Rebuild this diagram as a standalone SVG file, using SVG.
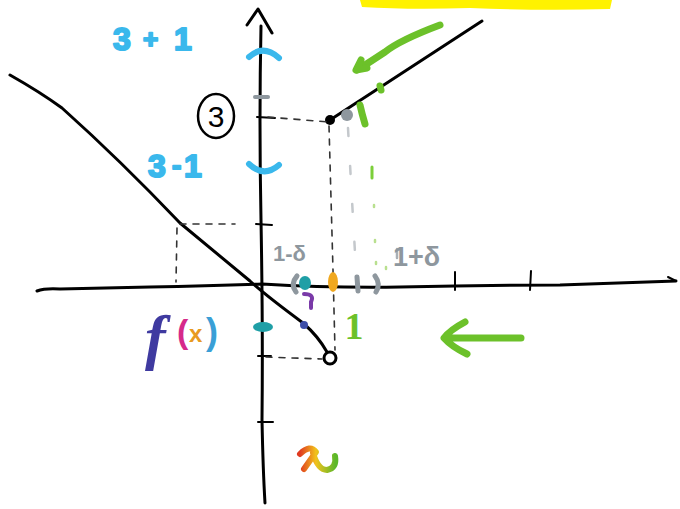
<svg xmlns="http://www.w3.org/2000/svg" width="680" height="509" viewBox="0 0 680 509">
<style>
.ink{fill:none;stroke:#000;stroke-width:3;stroke-linecap:round;stroke-linejoin:round}
.thin{fill:none;stroke:#000;stroke-width:2;stroke-linecap:round}
.dash{fill:none;stroke:#333;stroke-width:1.6;stroke-dasharray:6 7;stroke-linecap:round}
.gdash{fill:none;stroke:#c4c8cc;stroke-width:2.5;stroke-dasharray:8 30;stroke-linecap:round}
.blue{fill:none;stroke:#3ab8ec;stroke-width:6;stroke-linecap:round}
.gray{fill:none;stroke:#8e979e;stroke-width:5;stroke-linecap:round}
.green{fill:none;stroke:#6cc12a;stroke-width:7;stroke-linecap:round;stroke-linejoin:round}
.bt{font-family:"Liberation Sans",Arial,sans-serif;font-weight:bold;fill:#3ab8ec;stroke:#3ab8ec;stroke-width:2;stroke-linejoin:round}
.gt{font-family:"Liberation Sans",Arial,sans-serif;font-weight:bold;fill:#8e979e}
</style>
<defs>
<linearGradient id="rb" x1="0" y1="0" x2="1" y2="0">
<stop offset="0" stop-color="#e03a20"/><stop offset="0.45" stop-color="#f2c21c"/><stop offset="1" stop-color="#5cb82a"/>
</linearGradient>
</defs>
<rect width="680" height="509" fill="#fff"/>
<!-- yellow highlight -->
<path d="M360,0 L612,0 L610,9 Q540,11 470,8 Q410,10 362,7 Z" fill="#fff200"/>
<!-- axes -->
<g id="axes">
<path class="ink" d="M261,26 Q259,120 261,220 Q263,330 262,420 Q263,470 265,503"/>
<path class="ink" d="M247,25 L258,9 L272,33"/>
<path class="ink" d="M37,291 Q45,288 60,289 L150,287 Q210,286 262,284 Q330,288 400,287 Q480,285 560,285 Q620,283 676,281"/>
<path class="thin" d="M668,277 L676,281"/>
<path class="thin" d="M455,272 L455,290 M531,271 L530,290"/>
<path class="thin" d="M256,224 L272,225 M258,356 L271,356 M258,422 L273,422 M257,117 L275,118"/>
<path d="M255,97 L268,97" stroke="#8e979e" stroke-width="4" stroke-linecap="round"/>
</g>
<!-- graph -->
<g id="graph">
<path class="ink" d="M10,75 Q40,92 62,108 Q120,160 180,223 Q215,252 250,281 Q265,295 303,323 Q318,336 327,352"/>
<circle cx="330" cy="358" r="6" fill="#fff" stroke="#000" stroke-width="3"/>
<path class="ink" d="M330,120 L482,21"/>
<circle cx="330" cy="120" r="5" fill="#000"/>
</g>
<!-- dashed guides -->
<g id="guides">
<path class="dash" d="M268,117 L328,122"/>
<path class="dash" d="M329,126 L333,270 L335,350"/>
<path class="dash" d="M266,357 L322,359"/>
<path class="dash" d="M180,224 L235,224"/>
<path class="dash" d="M177,228 L176,282"/>
<path class="gdash" d="M348,128 L352,200 L356,270"/>
<path d="M397,249 L397,258" stroke="#aab0b5" stroke-width="2.5" stroke-linecap="round"/>
<path d="M372,167 L372,178" stroke="#7ccf3a" stroke-width="3" stroke-linecap="round"/>
<path d="M374,205 L374,207 M375,240 L375,242 M376,262 L376,264 M378,282 L378,284 M386,267 L386,269" stroke="#b9e08f" stroke-width="2.5" stroke-linecap="round"/>
</g>
<!-- blue bounds -->
<g id="bounds">
<path class="blue" d="M249,57 Q263,44 279,58"/>
<path class="blue" d="M249,164 Q264,178 279,165"/>
<text class="bt" x="113" y="50" font-size="32">3</text>
<text class="bt" x="143" y="48" font-size="26">+</text>
<text class="bt" x="174" y="50" font-size="32">1</text>
<text class="bt" x="148" y="177" font-size="32">3</text>
<text class="bt" x="172" y="175" font-size="28">-</text>
<text class="bt" x="184" y="177" font-size="32">1</text>
</g>
<!-- circled 3 -->
<g id="three">
<ellipse cx="216" cy="116" rx="18" ry="22" fill="none" stroke="#000" stroke-width="2.5"/>
<text x="216" y="127" font-size="30" text-anchor="middle" font-family="Liberation Sans,Arial,sans-serif" fill="#000">3</text>
</g>
<!-- gray marks -->
<g id="delta">
<circle cx="347" cy="115" r="6" fill="#8e979e"/>
<path class="gray" d="M297,276 Q290,284 296,292"/>
<path class="gray" d="M357,277 L358,291"/>
<path class="gray" d="M375,276 Q381,284 376,292"/>
<text class="gt" x="273" y="261" font-size="22">1-δ</text>
<text class="gt" x="393" y="266" font-size="27">1+δ</text>
</g>
<!-- green arrows -->
<g id="arrows">
<path class="green" d="M440,25 Q400,40 385,52 Q370,62 357,70"/>
<path class="green" d="M361,60 L356,70 L367,68"/>
<path class="green" d="M360,105 Q362,114 365,124" stroke-width="3"/>
<path class="green" d="M380,86 L381,90" stroke-width="3"/>
<path class="green" d="M465,322 Q450,330 444,338 Q452,347 467,354 M447,338 L521,338"/>
<text x="354" y="339" font-size="38" font-weight="bold" text-anchor="middle" font-family="Liberation Serif,Times New Roman,serif" fill="#6cc12a">1</text>
</g>
<!-- glitter marks -->
<g id="glitter">
<ellipse cx="263" cy="327" rx="10" ry="5" fill="#1f9fa6"/>
<ellipse cx="304" cy="325" rx="4" ry="4" fill="#3d4ea8"/>
<ellipse cx="305" cy="283" rx="6" ry="7" fill="#1f9fa6"/>
<path d="M304,294 Q315,294 311,302 L311,308" fill="none" stroke="#7a3aa8" stroke-width="4" stroke-linecap="round"/>
<ellipse cx="333" cy="282" rx="5" ry="10" fill="#f0a820"/>
</g>
<!-- f(x) -->
<g id="fx">
<text x="145" y="358" font-size="62" font-style="italic" font-weight="bold" font-family="Liberation Serif,Times New Roman,serif" fill="#3f3aa0">f</text>
<text x="177" y="343" font-size="34" font-weight="bold" font-family="Liberation Sans,Arial,sans-serif" fill="#d62a8a">(</text>
<text x="189" y="342" font-size="24" font-weight="bold" font-family="Liberation Sans,Arial,sans-serif" fill="#e89a20">x</text>
<text x="206" y="344" font-size="36" font-weight="bold" font-family="Liberation Sans,Arial,sans-serif" fill="#3a9fd6">)</text>
</g>
<!-- rainbow squiggle -->
<g id="squiggle">
<path d="M300,454 Q310,444 316,452 L304,469 M313,453 Q318,470 327,470 Q337,468 335,456" fill="none" stroke="url(#rb)" stroke-width="6" stroke-linecap="round" stroke-linejoin="round"/>
</g>
</svg>
